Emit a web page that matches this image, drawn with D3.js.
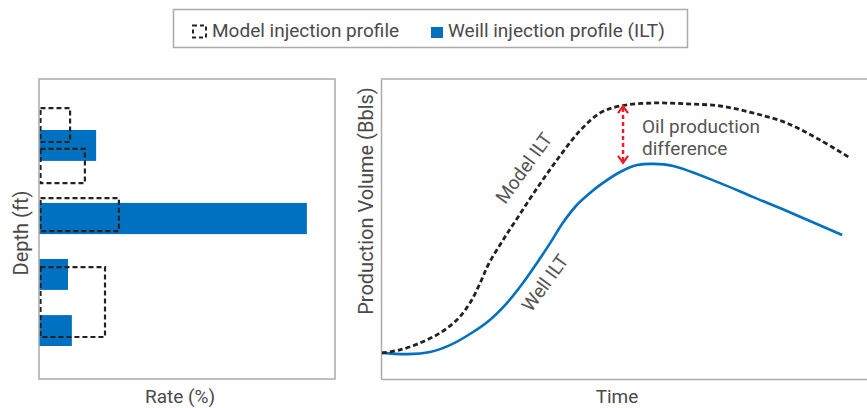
<!DOCTYPE html>
<html><head><meta charset="utf-8">
<script src="https://cdn.jsdelivr.net/npm/d3@7"></script>
<style>
html,body{margin:0;padding:0;background:#fff;}
svg{display:block;font-family:Roboto, "Noto Sans", sans-serif;}
</style></head>
<body><svg id="c" width="867" height="408"></svg>
<script>
// ---- data ----
const legendLabels = ["Model injection profile", "Weill injection profile (ILT)"];
// well (ILT) injection intervals: depth top, depth bottom, rate (%)
const wellTop    = [17, 41.3, 60, 78.7];
const wellBottom = [27.3, 51.7, 70.3, 89];
const wellRate   = [19.3, 90.5, 9.8, 11.1];
// model injection intervals
const modelTop    = [9.7, 23.3, 39.7, 62.7];
const modelBottom = [21, 34.7, 50.7, 86];
const modelRate   = [10.5, 15.5, 27, 22.3];

// production curves (time, volume)
const modelTime = [0.2, 3.9, 8.0, 12.1, 15.6, 18.3, 20.4, 22.2, 25.1, 28.6, 32.7, 36.8, 40.9, 45.1, 49.2, 56.0, 63.0, 69.8, 76.5, 83.5, 90.3, 96.5];
const modelVol  = [8.7, 9.7, 12, 15.3, 19.7, 25.3, 32, 38.5, 46.3, 55, 65, 74.3, 82.7, 88.7, 91, 92, 91.7, 91, 88.7, 85.3, 79.7, 73.7];
const wellTime  = [0.2, 5.3, 10.1, 14.2, 18.3, 22.4, 25.9, 29.2, 32.1, 34.8, 37.4, 40.3, 43.0, 45.1, 49.2, 52.7, 56.0, 60.1, 69.8, 76.5, 83.5, 94.9];
const wellVol   = [8.7, 8.3, 9, 11.3, 15, 19.7, 25.3, 32, 38.7, 45.3, 52, 58, 62, 64.7, 69, 71.3, 71.7, 71, 65.3, 60.7, 56, 48];
// difference arrow: time, from volume, to volume
const arrowTime = 49.8;
const arrowFrom = 91.3;
const arrowTo   = 71.7;

const svg = d3.select("#c");
const blue = "#0070c0", dark = "#222", frame = "#ababab", txt = "#4a4a4a";

// ---- legend ----
const lg = svg.append("g");
lg.append("rect").attr("x",173.5).attr("y",9.5).attr("width",514).attr("height",38)
  .attr("fill","none").attr("stroke",frame).attr("stroke-width",1.5);
lg.append("rect").attr("x",193).attr("y",25.5).attr("width",13).attr("height",12)
  .attr("fill","none").attr("stroke",dark).attr("stroke-width",2).attr("stroke-dasharray","4,3");
lg.append("text").attr("x",212).attr("y",37).attr("font-size",19).attr("fill",txt).text(legendLabels[0]);
lg.append("rect").attr("x",431).attr("y",27).attr("width",12).attr("height",11).attr("fill",blue);
lg.append("text").attr("x",448).attr("y",37).attr("font-size",19).attr("fill",txt).text(legendLabels[1]);

// ---- left panel ----
const xr = d3.scaleLinear().domain([0,100]).range([39,335]);
const yd = d3.scaleLinear().domain([0,100]).range([79,379]);
const L = svg.append("g");
L.selectAll("rect.well").data(wellRate).join("rect").attr("class","well")
  .attr("x",xr(0)).attr("y",(d,i)=>yd(wellTop[i]))
  .attr("width",d=>xr(d)-xr(0)).attr("height",(d,i)=>yd(wellBottom[i])-yd(wellTop[i]))
  .attr("fill",blue);
L.selectAll("rect.model").data(modelRate).join("rect").attr("class","model")
  .attr("x",xr(0)+1.5).attr("y",(d,i)=>yd(modelTop[i]))
  .attr("width",d=>xr(d)-xr(0)-1.5).attr("height",(d,i)=>yd(modelBottom[i])-yd(modelTop[i]))
  .attr("fill","none").attr("stroke",dark).attr("stroke-width",2.2).attr("stroke-dasharray","5,3");
L.append("rect").attr("x",xr(0)).attr("y",yd(0)).attr("width",xr(100)-xr(0)).attr("height",yd(100)-yd(0))
  .attr("fill","none").attr("stroke",frame).attr("stroke-width",1.5);
L.append("text").attr("x",180).attr("y",403).attr("text-anchor","middle").attr("font-size",19).attr("fill",txt).text("Rate (%)");
L.append("text").attr("transform","translate(28,233) rotate(-90)").attr("text-anchor","middle").attr("font-size",20).attr("fill",txt).text("Depth (ft)");

// ---- right panel ----
const xt = d3.scaleLinear().domain([0,100]).range([381,867]);
const yv = d3.scaleLinear().domain([0,100]).range([379,79]);
const R = svg.append("g");
R.append("g").attr("transform",`translate(0,${yv(0)})`)
  .call(d3.axisBottom(xt).tickValues([]).tickSizeOuter(0))
  .call(g=>g.select(".domain").attr("stroke",frame).attr("stroke-width",1.5));
R.append("g").attr("transform",`translate(${xt(0)},0)`)
  .call(d3.axisLeft(yv).tickValues([]).tickSizeOuter(0))
  .call(g=>g.select(".domain").attr("stroke",frame).attr("stroke-width",1.5));
R.append("line").attr("x1",xt(0)).attr("x2",870).attr("y1",yv(100)).attr("y2",yv(100))
  .attr("stroke",frame).attr("stroke-width",1.5);

const line = d3.line().x(d=>xt(d[0])).y(d=>yv(d[1])).curve(d3.curveCatmullRom.alpha(0.5));
R.append("path").datum(wellTime.map((t,i)=>[t,wellVol[i]])).attr("d",line)
  .attr("fill","none").attr("stroke",blue).attr("stroke-width",2.6);
R.append("path").datum(modelTime.map((t,i)=>[t,modelVol[i]])).attr("d",line)
  .attr("fill","none").attr("stroke",dark).attr("stroke-width",2.8).attr("stroke-dasharray","5,3");

// arrow
const red = "#e8202a";
const ax = xt(arrowTime), ay1 = yv(arrowFrom), ay2 = yv(arrowTo);
R.append("line").attr("x1",ax).attr("x2",ax).attr("y1",ay1+3).attr("y2",ay2-3)
  .attr("stroke",red).attr("stroke-width",2.5).attr("stroke-dasharray","4,3");
R.append("path").attr("d",`M${ax-5},${ay1+8}L${ax},${ay1+1}L${ax+5},${ay1+8}`)
  .attr("fill","none").attr("stroke",red).attr("stroke-width",2.2);
R.append("path").attr("d",`M${ax-5},${ay2-8}L${ax},${ay2-1}L${ax+5},${ay2-8}`)
  .attr("fill","none").attr("stroke",red).attr("stroke-width",2.2);

R.append("text").attr("x",642).attr("y",133).attr("font-size",19).attr("fill","#555").text("Oil production");
R.append("text").attr("x",642).attr("y",155).attr("font-size",19).attr("fill","#555").text("difference");
R.append("text").attr("transform","translate(524,168) rotate(-54)").attr("text-anchor","middle").attr("dominant-baseline","central")
  .attr("font-size",19).attr("fill","#555").text("Model ILT");
R.append("text").attr("transform","translate(545,283) rotate(-54)").attr("text-anchor","middle").attr("dominant-baseline","central")
  .attr("font-size",19).attr("fill","#555").text("Well ILT");
R.append("text").attr("x",617).attr("y",403).attr("text-anchor","middle").attr("font-size",19).attr("fill",txt).text("Time");
R.append("text").attr("transform","translate(373,201) rotate(-90)").attr("text-anchor","middle").attr("font-size",20).attr("fill",txt).text("Production Volume (Bbls)");
</script></body></html>
